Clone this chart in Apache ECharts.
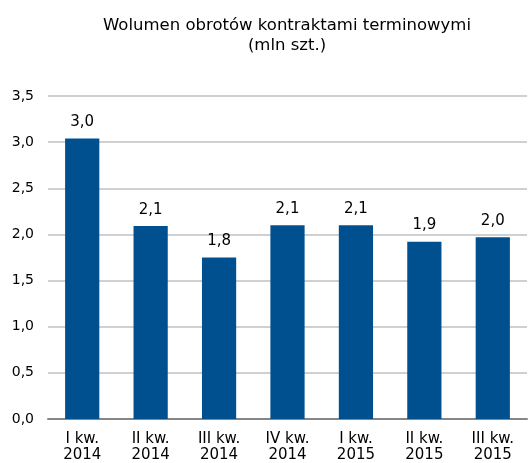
<!DOCTYPE html>
<html>
<head>
<meta charset="utf-8">
<script src="https://cdn.jsdelivr.net/npm/echarts@6/dist/echarts.min.js"></script>
<style>
html, body { margin: 0; padding: 0; background: #fff; }
#container { width: 528px; height: 463px; }
</style>
</head>
<body>
<div id="container"></div>
<script>
var categories = ['I kw.\n2014', 'II kw.\n2014', 'III kw.\n2014', 'IV kw.\n2014', 'I kw.\n2015', 'II kw.\n2015', 'III kw.\n2015'];
var values = [3.04, 2.09, 1.75, 2.10, 2.10, 1.92, 1.97];
var titleText = 'Wolumen obrotów kontraktami terminowymi\n(mln szt.)';

function fmt(v, d) {
    return v.toFixed(d).replace('.', ',');
}

var dom = document.getElementById('container');
var myChart = echarts.init(dom);

var option = {
    backgroundColor: '#fff',
    animation: false,
    title: {
        text: titleText,
        left: 282,
        textAlign: 'center',
        top: 11,
        textStyle: {
            fontFamily: 'Verdana, "DejaVu Sans"',
            fontWeight: 'normal',
            fontSize: 16.5,
            lineHeight: 20,
            color: '#000'
        }
    },
    grid: {
        left: 48,
        right: 1,
        top: 96,
        bottom: 42
    },
    xAxis: {
        type: 'category',
        data: categories,
        axisTick: { show: false },
        axisLine: { lineStyle: { color: '#868686', width: 2 } },
        axisLabel: {
            fontFamily: 'Verdana, "DejaVu Sans"',
            fontSize: 15,
            color: '#000',
            lineHeight: 16,
            margin: 12
        }
    },
    yAxis: {
        type: 'value',
        min: 0,
        max: 3.5,
        interval: 0.5,
        axisLine: { show: false },
        axisTick: { show: false },
        splitLine: { lineStyle: { color: '#d0d0d0', width: 2 } },
        axisLabel: {
            fontFamily: 'Verdana, "DejaVu Sans"',
            fontSize: 14,
            color: '#000',
            margin: 14,
            formatter: function (v) { return fmt(v, 1); }
        }
    },
    series: [{
        type: 'bar',
        data: values,
        barWidth: '50%',
        itemStyle: { color: '#00508f' },
        label: {
            show: true,
            position: 'top',
            distance: 9,
            fontFamily: 'Verdana, "DejaVu Sans"',
            fontSize: 15,
            color: '#000',
            formatter: function (p) { return fmt(p.value, 1); }
        }
    }]
};

myChart.setOption(option);
</script>
</body>
</html>
